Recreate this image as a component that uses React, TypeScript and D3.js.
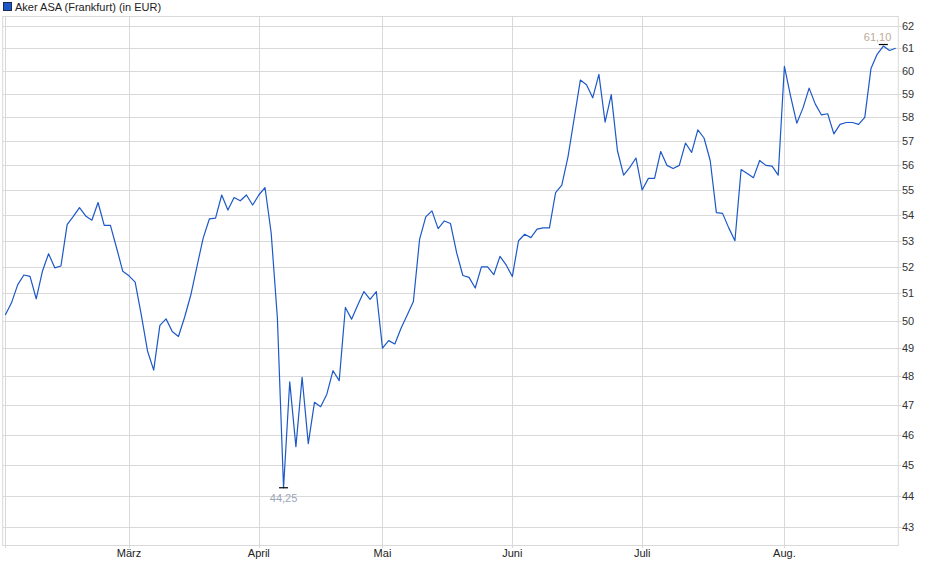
import * as d3 from 'd3';

// Aker ASA (Frankfurt), daily close in EUR, one value per trading day (Feb 3 - Aug 27)
const PRICES: number[] = [
  50.2, 50.65, 51.32, 51.69, 51.64, 50.8, 51.83, 52.5, 51.96, 52.03,
  53.63, 53.95, 54.3, 53.97, 53.8, 54.5, 53.6, 53.6, 52.72, 51.83,
  51.66, 51.42, 50.2, 48.9, 48.22, 49.82, 50.06, 49.6, 49.42, 50.12,
  50.94, 52.02, 53.1, 53.85, 53.88, 54.8, 54.2, 54.7, 54.57, 54.8,
  54.4, 54.8, 55.1, 53.3, 50.1, 44.25, 47.81, 45.6, 47.97, 45.7,
  47.1, 46.95, 47.38, 48.2, 47.85, 50.48, 50.05, 50.57, 51.07, 50.78,
  51.07, 49.0, 49.27, 49.15, 49.72, 50.2, 50.7, 53.05, 53.93, 54.17,
  53.47, 53.77, 53.67, 52.53, 51.67, 51.6, 51.2, 52.0, 52.0, 51.7,
  52.4, 52.07, 51.63, 53.0, 53.25, 53.12, 53.45, 53.5, 53.5, 54.9,
  55.2, 56.35, 57.95, 59.6, 59.4, 58.83, 59.85, 57.8, 58.97, 56.6,
  55.6, 55.92, 56.3, 55.0, 55.47, 55.47, 56.57, 56.0, 55.87, 56.0,
  56.92, 56.53, 57.47, 57.13, 56.2, 54.1, 54.07, 53.5, 53.0, 55.83,
  55.67, 55.5, 56.2, 56.0, 55.97, 55.6, 60.2, 58.9, 57.75, 58.39,
  59.25, 58.56, 58.1, 58.15, 57.3, 57.7, 57.78, 57.78, 57.7, 58.0,
  60.1, 60.73, 61.1, 60.9, 61.0,
];

// first trading day of each month (index into PRICES)
const MONTH_LABELS = ['', 'März', 'April', 'Mai', 'Juni', 'Juli', 'Aug.'];
const MONTH_INDEX = [0, 20, 41, 61, 82, 103, 126];

const Y_TICKS = [43, 44, 45, 46, 47, 48, 49, 50, 51, 52, 53, 54, 55, 56, 57, 58, 59, 60, 61, 62];

const TITLE = 'Aker ASA (Frankfurt) (in EUR)';

const W = 940;
const H = 579;
const FONT = '"Liberation Sans", Arial, sans-serif';
const GRID = '#d9d9d9';
const LINE = '#1c58c8';

export default function App() {
  const plot = { left: 2.7, right: 898.3, top: 16, bottom: 545 };

  const x = d3.scaleLinear().domain([0, PRICES.length - 1]).range([5.3, 895.7]);
  const y = d3.scaleLog().domain([43, 62]).range([527, 26]);

  const line = d3.line<number>()
    .x((_, i) => x(i))
    .y(d => y(d));

  const minIdx = d3.minIndex(PRICES);
  const maxIdx = d3.maxIndex(PRICES);
  const fmt = (v: number) => v.toFixed(2).replace('.', ',');

  return (
    <svg width={W} height={H} viewBox={`0 0 ${W} ${H}`}
      style={{ position: 'absolute', left: 0, top: 0, background: '#fff' }}
      fontFamily={FONT}>
      <rect width={W} height={H} fill="#fff" />

      {/* legend */}
      <rect x={3.5} y={2.5} width={8} height={8} fill={LINE} stroke="#1a2a50" strokeWidth={1} />
      <text x={15} y={10.5} fontSize={11} fill="#222">{TITLE}</text>

      {/* horizontal grid + right axis */}
      {Y_TICKS.map(t => (
        <g key={t}>
          <line x1={plot.left} x2={plot.right + 3} y1={Math.round(y(t)) + 0.5} y2={Math.round(y(t)) + 0.5}
            stroke={GRID} strokeWidth={1} />
          <text x={902} y={y(t) + 4} fontSize={11} fill="#333">{t}</text>
        </g>
      ))}

      {/* vertical month grid + labels */}
      {MONTH_INDEX.map((m, i) => (
        <g key={m}>
          <line x1={Math.round(x(m)) + 0.5} x2={Math.round(x(m)) + 0.5} y1={plot.top} y2={plot.bottom + 3}
            stroke={GRID} strokeWidth={1} />
          {MONTH_LABELS[i] && (
            <text x={x(m)} y={557} fontSize={11} fill="#222" textAnchor="middle">{MONTH_LABELS[i]}</text>
          )}
        </g>
      ))}

      {/* plot frame */}
      <rect x={plot.left} y={plot.top + 0.5} width={plot.right - plot.left} height={plot.bottom - plot.top}
        fill="none" stroke={GRID} strokeWidth={1} />

      {/* price line */}
      <path d={line(PRICES) ?? ''} fill="none" stroke={LINE} strokeWidth={1.2} strokeLinejoin="round" />

      {/* low marker */}
      <line x1={x(minIdx) - 4.5} x2={x(minIdx) + 4.5} y1={y(PRICES[minIdx])} y2={y(PRICES[minIdx])}
        stroke="#000" strokeWidth={1.2} />
      <text x={x(minIdx)} y={y(PRICES[minIdx]) + 14} fontSize={11} fill="#9aa4ba" textAnchor="middle">
        {fmt(PRICES[minIdx])}
      </text>

      {/* high marker */}
      <line x1={x(maxIdx) - 4.5} x2={x(maxIdx) + 4.5} y1={y(PRICES[maxIdx]) - 1.5} y2={y(PRICES[maxIdx]) - 1.5}
        stroke="#000" strokeWidth={1.2} />
      <text x={x(maxIdx) + 8} y={y(PRICES[maxIdx]) - 5} fontSize={11} fill="#bcaa98" textAnchor="end">
        {fmt(PRICES[maxIdx])}
      </text>
    </svg>
  );
}
